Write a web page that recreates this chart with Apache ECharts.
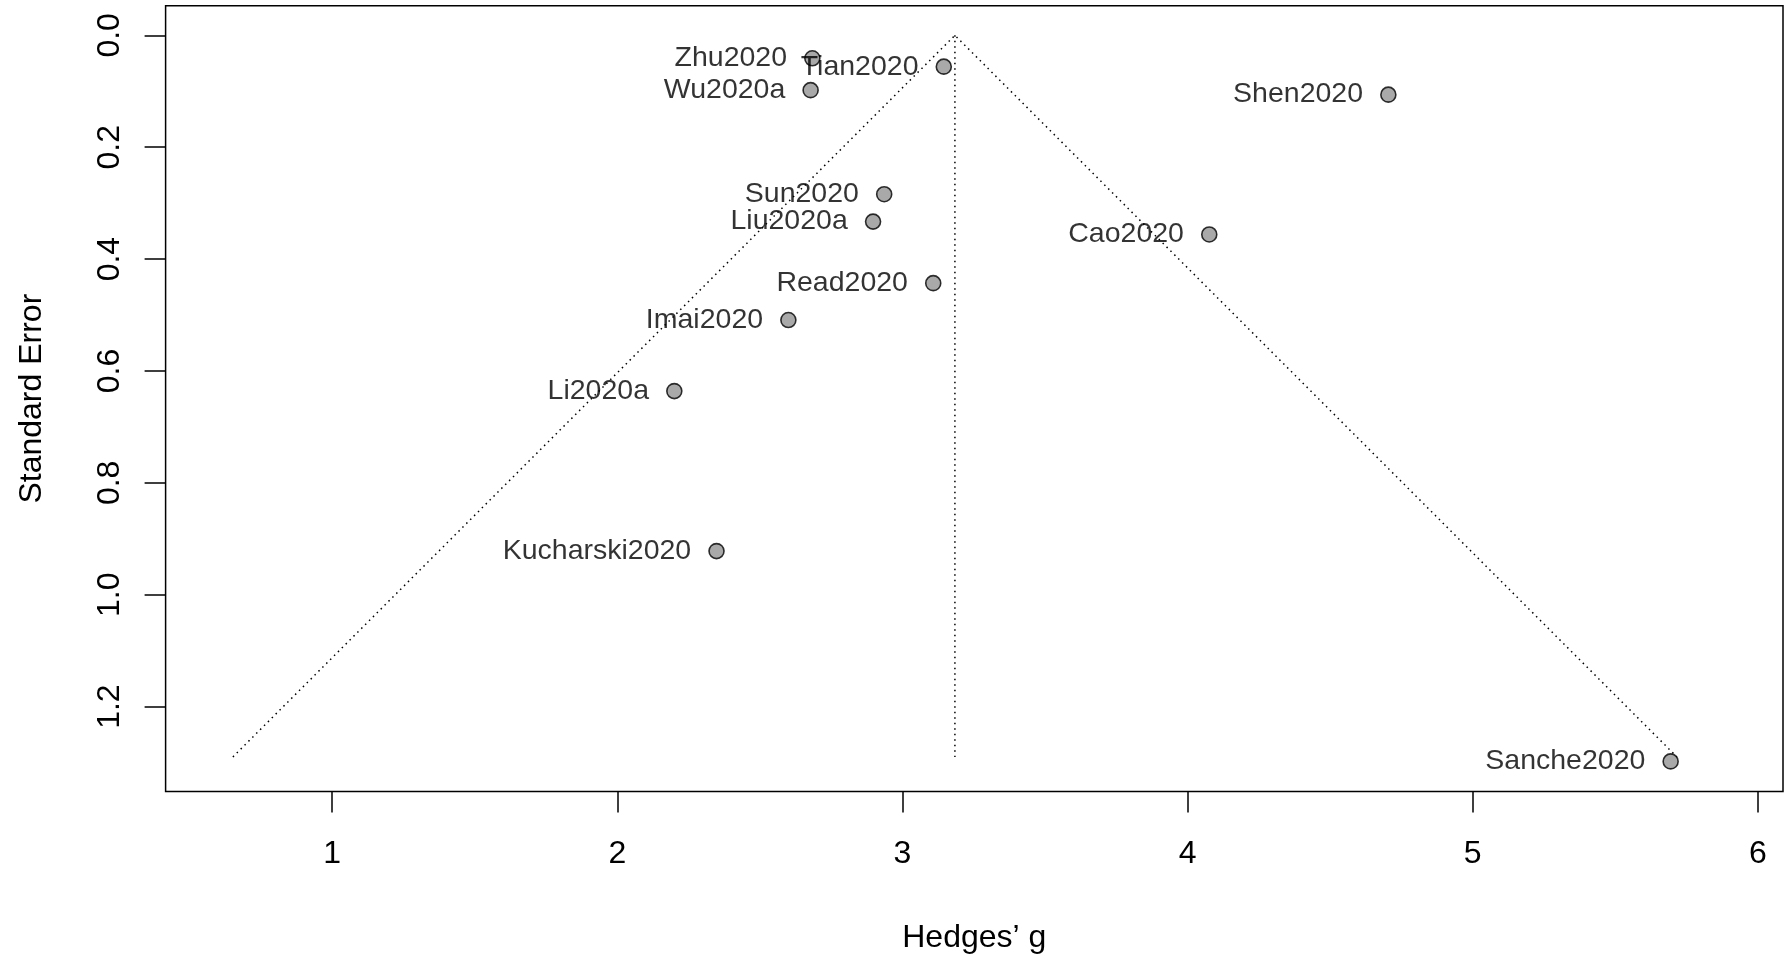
<!DOCTYPE html>
<html>
<head>
<meta charset="utf-8">
<script src="https://cdn.jsdelivr.net/npm/echarts@6/dist/echarts.min.js"></script>
<style>
  html, body { margin: 0; padding: 0; background: #fff; }
  #chart { width: 1791px; height: 964px; }
</style>
</head>
<body>
<div id="chart"></div>
<script>
// studies
const studies = ["Zhu2020", "Tian2020", "Wu2020a", "Shen2020", "Sun2020", "Liu2020a",
  "Cao2020", "Read2020", "Imai2020", "Li2020a", "Kucharski2020", "Sanche2020"];
const hedgesG = [2.684, 3.145, 2.678, 4.704, 2.936, 2.897, 4.076, 3.108, 2.600, 2.200, 2.348, 5.694];
const stdErr = [0.041, 0.056, 0.098, 0.106, 0.284, 0.333, 0.356, 0.443, 0.509, 0.636, 0.922, 1.298];

// funnel outline (pseudo confidence region) and centre line
const funnelX = [0.652, 3.184, 5.716];
const funnelSe = [1.29, 0, 1.29];
const centreX = [3.184, 3.184];
const centreSe = [0, 1.29];

const xTicks = [1, 2, 3, 4, 5, 6];
const yTicks = [0, 0.2, 0.4, 0.6, 0.8, 1.0, 1.2];

const FONT = "'Liberation Sans', Arial, Helvetica, sans-serif";
const dotted = { color: "#000", width: 1.5, type: [1.5, 4] };

const chart = echarts.init(document.getElementById("chart"), null, { renderer: "canvas" });

chart.setOption({
  animation: false,
  textStyle: { fontFamily: FONT, color: "#000" },
  grid: {
    left: 165.6, right: 8, top: 5.7, bottom: 172.4,
    show: true, borderColor: "#000", borderWidth: 1.5, backgroundColor: "transparent",
  },
  xAxis: {
    type: "value",
    min: 0.416, max: 6.088,
    splitLine: { show: false },
    axisLine: { show: false, onZero: false },
    axisTick: { show: true, customValues: xTicks, length: 21, lineStyle: { color: "#000", width: 1.5 } },
    axisLabel: { customValues: xTicks, fontSize: 32, color: "#000", margin: 47, fontFamily: FONT },
    name: "Hedges’ g",
    nameLocation: "middle",
    nameGap: 131,
    nameTextStyle: { fontSize: 32, color: "#000", fontFamily: FONT },
  },
  yAxis: {
    type: "value",
    inverse: true,
    min: -0.053, max: 1.352,
    splitLine: { show: false },
    axisLine: { show: false, onZero: false },
    axisTick: { show: true, customValues: yTicks, length: 21, lineStyle: { color: "#000", width: 1.5 } },
    axisLabel: {
      customValues: yTicks, rotate: 90, fontSize: 32, color: "#000", margin: 39, fontFamily: FONT,
      formatter: (v) => v.toFixed(1),
    },
    name: "Standard Error",
    nameLocation: "middle",
    nameGap: 117,
    nameTextStyle: { fontSize: 32, color: "#000", fontFamily: FONT },
  },
  series: [
    {
      type: "line",
      data: funnelX.map((x, i) => [x, funnelSe[i]]),
      symbol: "none",
      lineStyle: dotted,
      silent: true,
      z: 1,
    },
    {
      type: "line",
      data: centreX.map((x, i) => [x, centreSe[i]]),
      symbol: "none",
      lineStyle: dotted,
      silent: true,
      z: 1,
    },
    {
      type: "scatter",
      data: hedgesG.map((g, i) => ({ value: [g, stdErr[i]], name: studies[i] })),
      symbol: "circle",
      symbolSize: 15,
      itemStyle: { color: "#939393", borderColor: "#000", borderWidth: 1.6 },
      label: {
        show: true,
        position: "left",
        distance: 17,
        formatter: (p) => p.name,
        fontSize: 28.5,
        color: "#000",
        fontFamily: FONT,
      },
      z: 3,
    },
  ],
});
</script>
</body>
</html>
